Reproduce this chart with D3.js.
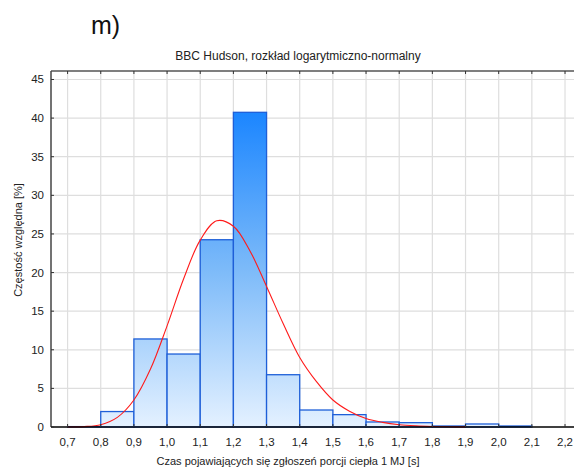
<!DOCTYPE html>
<html>
<head>
<meta charset="utf-8">
<script src="https://cdn.jsdelivr.net/npm/d3@7"></script>
<style>
html,body{margin:0;padding:0;background:#fff;overflow:hidden;}
svg{display:block;font-family:"Liberation Sans",Arial,sans-serif;}
</style>
</head>
<body>
<svg id="chart" width="574" height="469"></svg>
<script>
// ---- data ----
const binStarts = [0.7,0.8,0.9,1.0,1.1,1.2,1.3,1.4,1.5,1.6,1.7,1.8,1.9,2.0];
const binWidth = 0.1;
const binValues = [0.05,2.0,11.4,9.45,24.25,40.75,6.77,2.2,1.6,0.65,0.56,0.13,0.39,0.13];
const curveX = [0.70,0.75,0.80,0.85,0.90,0.95,1.00,1.05,1.10,1.15,1.20,1.25,1.30,1.35,1.40,1.45,1.50,1.55,1.60,1.65,1.70,1.75,1.80,1.85,1.90];
const curveY = [0.0,0.05,0.3,1.25,3.5,7.5,13.1,19.2,24.2,26.7,26.0,22.8,18.2,13.4,9.0,5.9,3.5,2.05,1.1,0.6,0.3,0.15,0.07,0.03,0.01];
const xTicks = [0.7,0.8,0.9,1.0,1.1,1.2,1.3,1.4,1.5,1.6,1.7,1.8,1.9,2.0,2.1,2.2];
const yTicks = [0,5,10,15,20,25,30,35,40,45];
const panelLabel = "m)";
const title = "BBC Hudson, rozkład logarytmiczno-normalny";
const xLabel = "Czas pojawiających się zgłoszeń porcji ciepła 1 MJ [s]";
const yLabel = "Częstość względna [%]";

// ---- layout ----
const svg = d3.select("#chart");
const L = 51, T = 71, B = 427, R = 581.6;
const x = d3.scaleLinear().domain([0.65, 2.25]).range([L, R]);
const y = d3.scaleLinear().domain([0, 46.1]).range([B, T]);
const fmt = d => d.toFixed(1).replace(".", ",");

// gradient
const defs = svg.append("defs");
const grad = defs.append("linearGradient").attr("id","barGrad")
  .attr("gradientUnits","userSpaceOnUse")
  .attr("x1",0).attr("x2",0).attr("y1",y(41)).attr("y2",y(0));
grad.append("stop").attr("offset","0%").attr("stop-color","#1a85ff");
grad.append("stop").attr("offset","50%").attr("stop-color","#7cbaf9");
grad.append("stop").attr("offset","100%").attr("stop-color","#e4f1ff");

// grid
const grid = svg.append("g");
grid.selectAll("line.gx").data(xTicks).join("line")
  .attr("x1", d => x(d)).attr("x2", d => x(d))
  .attr("y1", T).attr("y2", B)
  .attr("stroke", "#dedede").attr("stroke-width", 1.2);
grid.selectAll("line.gy").data(yTicks.filter(d => d > 0)).join("line")
  .attr("x1", L).attr("x2", R)
  .attr("y1", d => y(d)).attr("y2", d => y(d))
  .attr("stroke", "#dedede").attr("stroke-width", 1.2);

// bars
svg.append("g").selectAll("rect").data(binStarts.map((s,i)=>({s, v: binValues[i]}))).join("rect")
  .attr("x", d => x(d.s))
  .attr("width", d => x(d.s + binWidth) - x(d.s))
  .attr("y", d => y(d.v))
  .attr("height", d => y(0) - y(d.v))
  .attr("fill", "url(#barGrad)")
  .attr("stroke", "#1e5fd8").attr("stroke-width", 1.3);

// curve
const line = d3.line().x(d => x(d[0])).y(d => y(d[1])).curve(d3.curveCatmullRom);
svg.append("path").datum(curveX.map((v,i)=>[v, curveY[i]]))
  .attr("d", line).attr("fill","none").attr("stroke","#ff1a1a").attr("stroke-width",1.1);

// frame
svg.append("line").attr("x1", L).attr("x2", R).attr("y1", T).attr("y2", T)
  .attr("stroke", "#555").attr("stroke-width", 1.5);
svg.append("line").attr("x1", L).attr("x2", L).attr("y1", T).attr("y2", B)
  .attr("stroke", "#444").attr("stroke-width", 1.5);
svg.append("line").attr("x1", L).attr("x2", R).attr("y1", B).attr("y2", B)
  .attr("stroke", "#000").attr("stroke-width", 1.5);

// tick marks (inside)
svg.append("g").selectAll("line").data(xTicks).join("line")
  .attr("x1", d => x(d)).attr("x2", d => x(d)).attr("y1", T).attr("y2", T + 3)
  .attr("stroke", "#333");
svg.append("g").selectAll("line").data(xTicks).join("line")
  .attr("x1", d => x(d)).attr("x2", d => x(d)).attr("y1", B).attr("y2", B - 3)
  .attr("stroke", "#333");
svg.append("g").selectAll("line").data(yTicks).join("line")
  .attr("x1", L).attr("x2", L + 3).attr("y1", d => y(d)).attr("y2", d => y(d))
  .attr("stroke", "#333");

// tick labels
svg.append("g").selectAll("text").data(xTicks).join("text")
  .attr("x", d => x(d)).attr("y", 446)
  .attr("text-anchor", "middle").attr("font-size", 11.5).attr("fill", "#222")
  .text(fmt);
svg.append("g").selectAll("text").data(yTicks).join("text")
  .attr("x", 44).attr("y", d => y(d) + 4)
  .attr("text-anchor", "end").attr("font-size", 11.5).attr("fill", "#222")
  .text(d => d);

// texts
svg.append("text").attr("x", 91).attr("y", 34).attr("font-size", 25).attr("fill", "#111")
  .text(panelLabel);
svg.append("text").attr("x", 298).attr("y", 60).attr("text-anchor", "middle")
  .attr("font-size", 12).attr("fill", "#222").text(title);
svg.append("text").attr("x", 288).attr("y", 465).attr("text-anchor", "middle")
  .attr("font-size", 11).attr("fill", "#222").text(xLabel);
svg.append("text").attr("transform", "translate(22,240) rotate(-90)")
  .attr("text-anchor", "middle").attr("font-size", 11).attr("fill", "#222").text(yLabel);
</script>
</body>
</html>
